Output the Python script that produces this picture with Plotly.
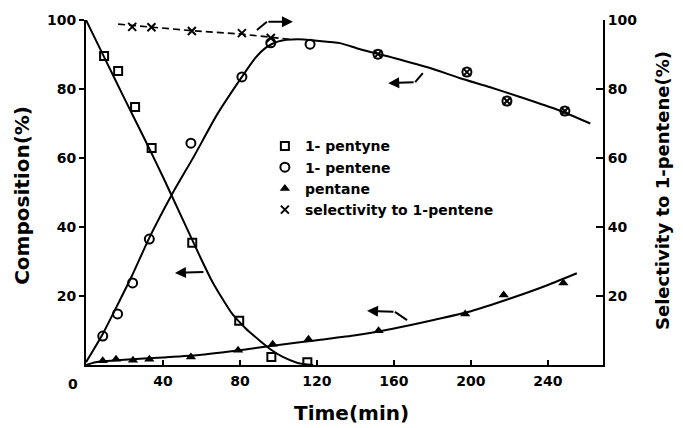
import plotly.graph_objects as go

# ---------------- data ----------------
# measured points
pentyne_t = [9.4, 16.7, 25.5, 34.1, 55.2, 79.6, 96.3, 115]
pentyne_v = [89.6, 85.2, 74.8, 62.9, 35.4, 12.8, 2.3, 0.8]

pentene_t = [8.7, 16.4, 24.2, 32.9, 54.5, 81, 96, 116.4, 151.7, 197.9, 218.7, 248.8]
pentene_v = [8.4, 14.8, 23.8, 36.5, 64.3, 83.5, 93.4, 93.0, 90.1, 84.9, 76.5, 73.6]

pentane_t = [8.7, 15.6, 24.4, 32.9, 54.5, 79, 97, 115.6, 152, 197, 217, 248]
pentane_v = [1.2, 1.7, 1.4, 1.7, 2.3, 4.3, 6.0, 7.5, 9.9, 14.8, 20.3, 23.8]

select_t = [24, 34, 55, 81, 96, 151.7, 197.9, 218.7, 248.8]
select_v = [98.0, 97.9, 96.8, 96.2, 94.8, 90.1, 84.9, 76.5, 73.6]

# drawn (fitted) curves
pentyne_curve_t = [0, 10, 20, 30, 40, 50, 55, 60, 65, 70, 76, 83, 90, 96, 102, 110, 118]
pentyne_curve_v = [100, 88.6, 77.2, 66, 54.5, 42.5, 36.5, 30.5, 24.8, 20, 14.8, 10.6, 7.2, 4.5, 2.4, 0.6, 0]

pentene_curve_t = [0, 8.7, 16, 24, 33, 44.5, 56, 68, 81, 88, 94, 100, 110, 120, 132, 142, 160, 178.7, 194, 210, 225.5, 245, 262]
pentene_curve_v = [0.8, 9, 17, 26, 37, 49.3, 60.4, 72.5, 83.5, 89, 92.2, 93.8, 94.4, 94, 93.3, 91.6, 89, 86.1, 83.2, 80.5, 77.7, 74, 70]

pentane_curve_t = [0, 5, 20, 40, 60, 80, 100, 120, 140, 160, 180, 200, 220, 240, 255]
pentane_curve_v = [0, 0.8, 1.5, 2.2, 3.0, 4.3, 5.8, 7.2, 8.6, 10.6, 13.0, 15.6, 19.2, 23.2, 26.6]

select_curve_t = [16.7, 24, 34, 55, 81, 96, 106]
select_curve_v = [98.8, 98.4, 97.9, 96.9, 95.9, 95.1, 94.4]

x_ticks = [0, 40, 80, 120, 160, 200, 240]
x_ticktext = ["", "40", "80", "120", "160", "200", "240"]
y_ticks = [20, 40, 60, 80, 100]

FONT = "DejaVu Sans"
BLK = "black"

fig = go.Figure()

# curves
for t, v in [
    (pentyne_curve_t, pentyne_curve_v),
    (pentene_curve_t, pentene_curve_v),
    (pentane_curve_t, pentane_curve_v),
]:
    fig.add_trace(go.Scatter(x=t, y=v, mode="lines", line=dict(color=BLK, width=2, shape="spline", smoothing=0.6),
                             showlegend=False, hoverinfo="skip"))
fig.add_trace(go.Scatter(x=select_curve_t, y=select_curve_v, mode="lines",
                         line=dict(color=BLK, width=1.6, dash="7px,4px"),
                         showlegend=False, hoverinfo="skip", yaxis="y2"))

# markers
fig.add_trace(go.Scatter(x=pentyne_t, y=pentyne_v, mode="markers", name="1- pentyne",
                         marker=dict(symbol="square-open", size=8, color=BLK, line=dict(width=2, color=BLK))))
fig.add_trace(go.Scatter(x=pentene_t, y=pentene_v, mode="markers", name="1- pentene",
                         marker=dict(symbol="circle-open", size=9, color=BLK, line=dict(width=2, color=BLK))))
fig.add_trace(go.Scatter(x=pentane_t, y=pentane_v, mode="markers", name="pentane",
                         marker=dict(symbol="triangle-up", size=9, color=BLK, line=dict(width=0))))
fig.add_trace(go.Scatter(x=select_t, y=select_v, mode="markers", name="selectivity to 1-pentene",
                         marker=dict(symbol="x-thin-open", size=8, color=BLK, line=dict(width=2, color=BLK)),
                         yaxis="y2"))

# arrows (bent lead-in + arrow head)
arrows = [
    # (bend start x, y, bend end x, y, head x, y, yref)
    (88.8, 97.1, 94, 99.5, 107.5, 99.5, "y2"),
    (175, 84.6, 171, 82, 157, 81.7, "y"),
    (61.8, 27, 61.8, 27, 46.2, 26.7, "y"),
    (166.8, 13, 160.5, 15.4, 146, 15.7, "y"),
]
for x0, y0, x1, y1, xh, yh, yr in arrows:
    if (x0, y0) != (x1, y1):
        fig.add_shape(type="line", x0=x0, y0=y0, x1=x1, y1=y1, xref="x", yref=yr,
                      line=dict(color=BLK, width=2))
    fig.add_annotation(x=xh, y=yh, ax=x1, ay=y1, xref="x", yref=yr, axref="x", ayref=yr,
                       showarrow=True, arrowhead=2, arrowsize=1.1, arrowwidth=2, arrowcolor=BLK, text="")

# axis titles & stray "0" label
title_kw = dict(xref="paper", yref="paper", xanchor="center", yanchor="middle", showarrow=False)
fig.add_annotation(text="<b>Composition(%)</b>", x=-0.124, y=0.493, textangle=-90,
                   font=dict(family=FONT, size=20, color=BLK), **title_kw)
fig.add_annotation(text="<b>Selectivity to 1-pentene(%)</b>", x=1.114, y=0.507, textangle=-90,
                   font=dict(family=FONT, size=18, color=BLK), **title_kw)
fig.add_annotation(text="<b>Time(min)</b>", x=0.5126, y=-0.139,
                   font=dict(family=FONT, size=20, color=BLK), **title_kw)
fig.add_annotation(text="<b>0</b>", x=-0.025, y=-0.055,
                   font=dict(family=FONT, size=14, color=BLK), **title_kw)

axis_common = dict(showgrid=False, zeroline=False, showline=True, linecolor=BLK, linewidth=2,
                   tickcolor=BLK, tickwidth=2,
                   tickfont=dict(family=FONT, size=14, color=BLK, weight="bold"))

fig.update_layout(
    width=683, height=428,
    margin=dict(l=86, r=80, t=20, b=63),
    paper_bgcolor="white", plot_bgcolor="white",
    font=dict(family=FONT, color=BLK),
    xaxis=dict(range=[0, 268.6], tickvals=x_ticks, ticktext=x_ticktext, ticks="inside", ticklen=5,
               ticklabelstandoff=2, **axis_common),
    yaxis=dict(range=[0, 100], tickvals=y_ticks, ticks="outside", ticklen=5, **axis_common),
    yaxis2=dict(range=[0, 100], tickvals=y_ticks, ticks="inside", ticklen=7, overlaying="y", side="right",
                **axis_common),
    legend=dict(x=0.346, y=0.68, xanchor="left", yanchor="top", bgcolor="rgba(0,0,0,0)",
                font=dict(family=FONT, size=14, color=BLK, weight="bold"), tracegroupgap=0),
    showlegend=True,
)

fig.write_html("out.html")
